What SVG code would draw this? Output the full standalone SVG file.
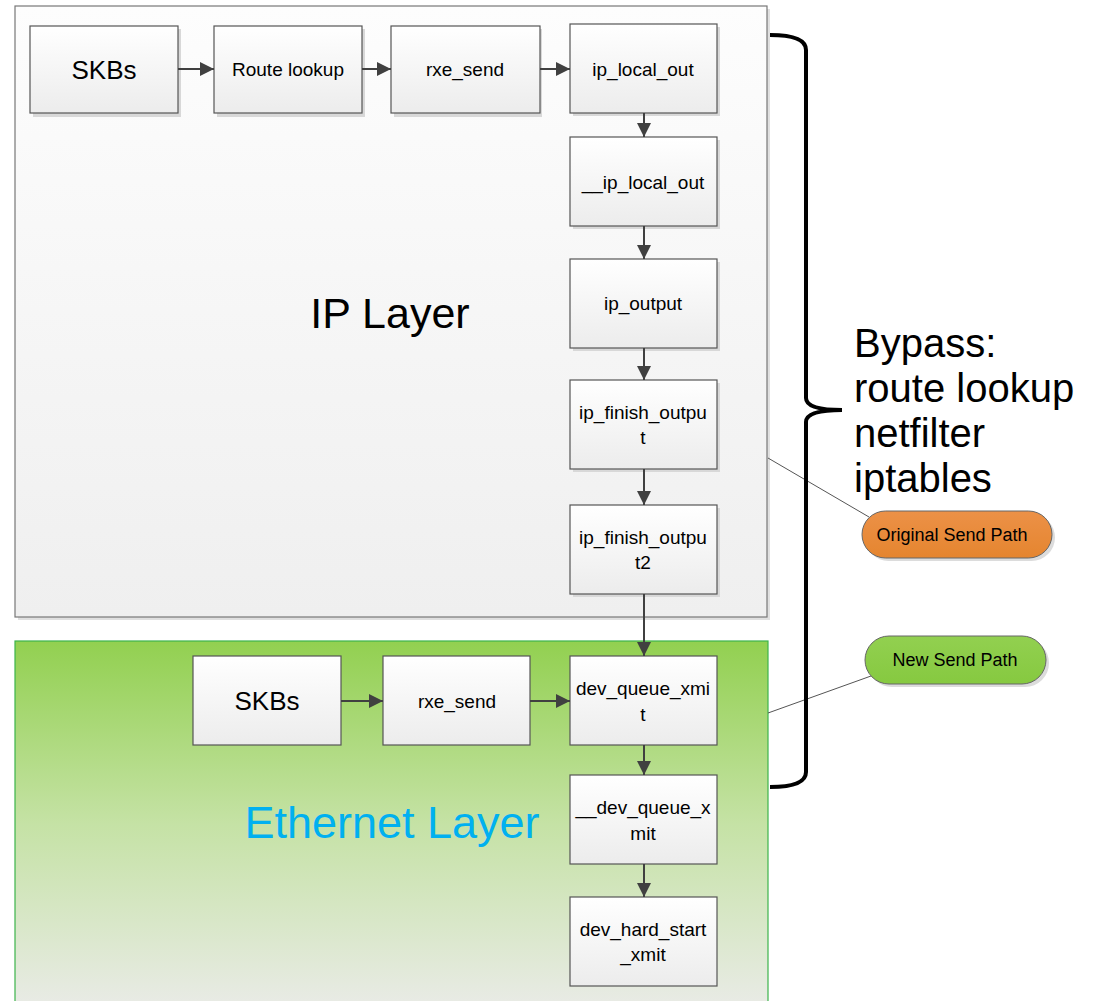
<svg xmlns="http://www.w3.org/2000/svg" width="1095" height="1001" viewBox="0 0 1095 1001">
<defs>
<linearGradient id="gIP" x1="0" y1="0" x2="0" y2="1"><stop offset="0" stop-color="#fdfdfd"/><stop offset="1" stop-color="#efefef"/></linearGradient>
<linearGradient id="gEth" x1="0" y1="0" x2="0" y2="1"><stop offset="0" stop-color="#92d050"/><stop offset="0.5" stop-color="#c5e2a5"/><stop offset="1" stop-color="#e9ebe6"/></linearGradient>
<linearGradient id="gNode" x1="0" y1="0" x2="0" y2="1"><stop offset="0" stop-color="#ffffff"/><stop offset="1" stop-color="#ececec"/></linearGradient>
<linearGradient id="gOr" x1="0" y1="0" x2="0" y2="1"><stop offset="0" stop-color="#ec9147"/><stop offset="1" stop-color="#e5852f"/></linearGradient>
<linearGradient id="gGr" x1="0" y1="0" x2="0" y2="1"><stop offset="0" stop-color="#92d050"/><stop offset="1" stop-color="#86c940"/></linearGradient>
<marker id="ah2" viewBox="0 0 10 10" refX="10" refY="5" markerWidth="14" markerHeight="14" markerUnits="userSpaceOnUse" orient="auto"><path d="M0,0 L10,5 L0,10 z" fill="#404040"/></marker>
</defs>
<style>
.node rect.b{fill:url(#gNode);stroke:#555;stroke-width:1.2}
.node rect.s{fill:#d8d8d8}
.t{font-family:"Liberation Sans",Arial,sans-serif;font-size:19px;fill:#000;text-anchor:middle}
.big{font-family:"Liberation Sans",Arial,sans-serif;font-size:26px;fill:#000;text-anchor:middle}
.conn line{stroke:#404040;stroke-width:2;marker-end:url(#ah2)}
.pill{font-family:"Liberation Sans",Arial,sans-serif;font-size:18px;fill:#000;text-anchor:middle}
</style>

<g id="ip-layer">
<rect x="18" y="9" width="752" height="611" fill="#e0e0e0"/>
<rect x="15" y="6" width="752" height="611" fill="url(#gIP)" stroke="#777" stroke-width="1.2"/>
<text x="390" y="328" font-family="Liberation Sans, Arial, sans-serif" font-size="43" fill="#000" text-anchor="middle">IP Layer</text>
</g>

<g id="ethernet-layer">
<rect x="15" y="641" width="753" height="365" fill="url(#gEth)" stroke="#3cb44b" stroke-width="1.2"/>
<text x="392" y="838" font-family="Liberation Sans, Arial, sans-serif" font-size="45" fill="#00b0f0" text-anchor="middle">Ethernet Layer</text>
</g>

<g id="skbs1" class="node"><rect class="s" x="33" y="29" width="148" height="88"/><rect class="b" x="30" y="26" width="148" height="87"/><text class="big" x="104" y="79">SKBs</text></g>
<g id="route-lookup" class="node"><rect class="s" x="217" y="29" width="148" height="88"/><rect class="b" x="214" y="26" width="148" height="87"/><text class="t" x="288" y="76">Route lookup</text></g>
<g id="rxe-send1" class="node"><rect class="s" x="394" y="29" width="148" height="88"/><rect class="b" x="391" y="26" width="149" height="87"/><text class="t" x="465" y="76">rxe_send</text></g>
<g id="ip-local-out" class="node"><rect class="s" x="573" y="27" width="147" height="89"/><rect class="b" x="570" y="24" width="147" height="89"/><text class="t" x="643" y="76">ip_local_out</text></g>
<g id="__ip-local-out" class="node"><rect class="s" x="573" y="140" width="147" height="89"/><rect class="b" x="570" y="137" width="147" height="89"/><text class="t" x="643" y="189">__ip_local_out</text></g>
<g id="ip-output" class="node"><rect class="s" x="573" y="262" width="147" height="89"/><rect class="b" x="570" y="259" width="147" height="89"/><text class="t" x="643" y="310">ip_output</text></g>
<g id="ip-finish-output" class="node"><rect class="s" x="573" y="383" width="147" height="89"/><rect class="b" x="570" y="380" width="147" height="89"/><text class="t" x="643" y="419">ip_finish_outpu</text><text class="t" x="643" y="444">t</text></g>
<g id="ip-finish-output2" class="node"><rect class="s" x="573" y="508" width="147" height="89"/><rect class="b" x="570" y="505" width="147" height="89"/><text class="t" x="643" y="544">ip_finish_outpu</text><text class="t" x="643" y="569">t2</text></g>
<g id="skbs2" class="node"><rect class="b" x="193" y="656" width="148" height="89"/><text class="big" x="267" y="710">SKBs</text></g>
<g id="rxe-send2" class="node"><rect class="b" x="383" y="656" width="147" height="89"/><text class="t" x="457" y="708">rxe_send</text></g>
<g id="dev-queue-xmit" class="node"><rect class="b" x="570" y="656" width="147" height="89"/><text class="t" x="643" y="695">dev_queue_xmi</text><text class="t" x="643" y="721">t</text></g>
<g id="__dev-queue-xmit" class="node"><rect class="b" x="570" y="775" width="147" height="89"/><text class="t" x="643" y="814">__dev_queue_x</text><text class="t" x="643" y="840">mit</text></g>
<g id="dev-hard-start-xmit" class="node"><rect class="b" x="570" y="897" width="147" height="89"/><text class="t" x="643" y="936">dev_hard_start</text><text class="t" x="643" y="961">_xmit</text></g>

<g id="connectors">
<g class="conn">
<line x1="178" y1="69" x2="214" y2="69"/>
<line x1="362" y1="69" x2="391" y2="69"/>
<line x1="540" y1="69" x2="570" y2="69"/>
<line x1="644" y1="113" x2="644" y2="137"/>
<line x1="644" y1="226" x2="644" y2="259"/>
<line x1="644" y1="348" x2="644" y2="380"/>
<line x1="644" y1="469" x2="644" y2="505"/>
<line x1="644" y1="594" x2="644" y2="656"/>
<line x1="341" y1="701" x2="383" y2="701"/>
<line x1="530" y1="701" x2="570" y2="701"/>
<line x1="644" y1="745" x2="644" y2="775"/>
<line x1="644" y1="864" x2="644" y2="897"/>
</g>
<line x1="768" y1="458" x2="869" y2="517" stroke="#555" stroke-width="1"/>
<line x1="768" y1="713" x2="871" y2="676" stroke="#555" stroke-width="1"/>
</g>

<g id="brace">
<path d="M770,35 Q806,35 806,50 L806,398 Q806,410 842,410 Q806,410 806,422 L806,772 Q806,787 770,787" fill="none" stroke="#000" stroke-width="4"/>
</g>

<g id="bypass-text" font-family="Liberation Sans, Arial, sans-serif" font-size="40" fill="#000">
<text x="854" y="357">Bypass:</text>
<text x="854" y="402">route lookup</text>
<text x="854" y="447">netfilter</text>
<text x="854" y="492">iptables</text>
</g>

<g id="original-send-path">
<rect x="865" y="514" width="190" height="47" rx="23.5" fill="#dcdcdc"/>
<rect x="862" y="511" width="190" height="47" rx="23.5" fill="url(#gOr)" stroke="#666" stroke-width="1"/>
<text class="pill" x="952" y="541">Original Send Path</text>
</g>
<g id="new-send-path">
<rect x="868" y="639" width="181" height="48" rx="24" fill="#dcdcdc"/>
<rect x="865" y="636" width="181" height="48" rx="24" fill="url(#gGr)" stroke="#666" stroke-width="1"/>
<text class="pill" x="955" y="666">New Send Path</text>
</g>
</svg>
